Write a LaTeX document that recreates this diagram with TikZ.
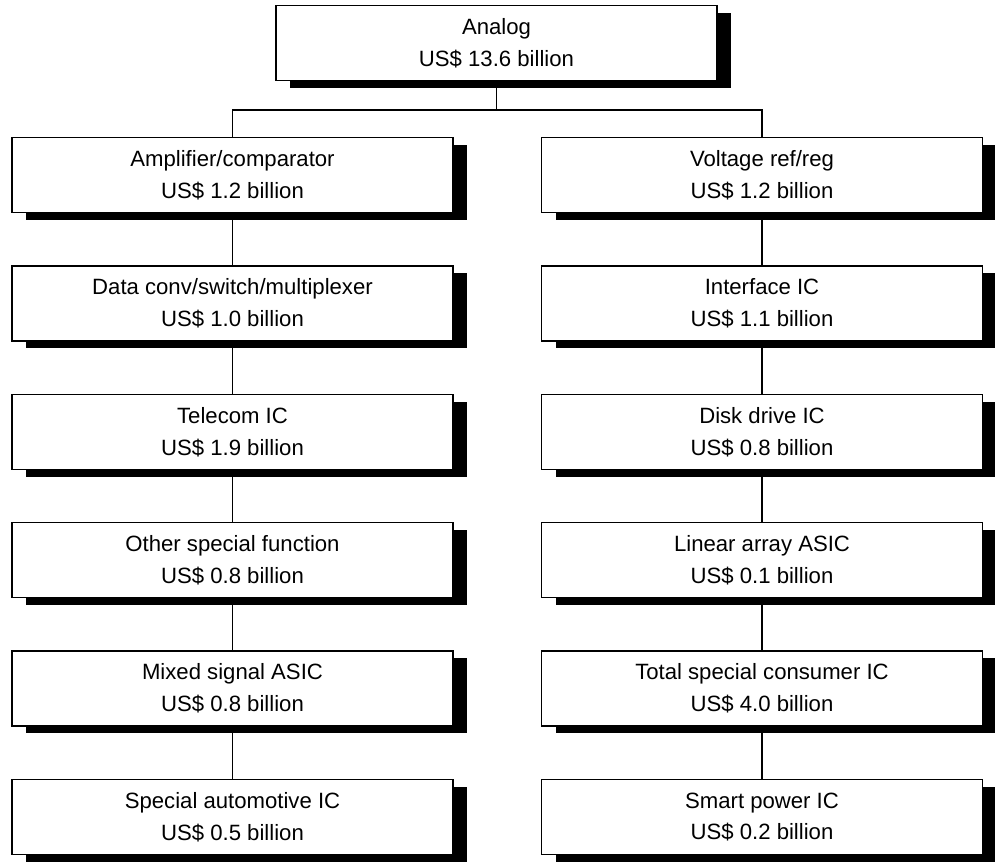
\documentclass[tikz,border=0pt]{standalone}
\usepackage{fontspec}
\setmainfont{Liberation Sans}
\usepackage{tikz}
\usetikzlibrary{positioning,shadows}
\tikzset{
  aline/.style={black, line width=0.9pt},
  abox/.style={draw=black, fill=white, line width=0.9pt, align=center,
               minimum width=8.82cm, minimum height=1.5cm, inner sep=2pt,
               font=\fontsize{12.6}{18}\selectfont,
               drop shadow={shadow xshift=0.28cm, shadow yshift=-0.14cm,
                            fill=black, opacity=1}},
}

\begin{document}
\begin{tikzpicture}
  \useasboundingbox (0,0) rectangle (19.9,-17.26);

  % topo
  \node[abox] (analog) at (9.93,-0.86) {Analog\\US\$ 13.6 billion};

  % coluna esquerda
  \node[abox] (amp)  at (4.65,-3.50)  {Amplifier/comparator\\US\$ 1.2 billion};
  \node[abox] (dconv) at (4.65,-6.07) {Data conv/switch/multiplexer\\US\$ 1.0 billion};
  \node[abox] (tele) at (4.65,-8.64)  {Telecom IC\\US\$ 1.9 billion};
  \node[abox] (other) at (4.65,-11.20) {Other special function\\US\$ 0.8 billion};
  \node[abox] (mixed) at (4.65,-13.77) {Mixed signal ASIC\\US\$ 0.8 billion};
  \node[abox] (auto) at (4.65,-16.34) {Special automotive IC\\US\$ 0.5 billion};

  % coluna direita
  \node[abox] (vref) at (15.24,-3.50)  {Voltage ref/reg\\US\$ 1.2 billion};
  \node[abox] (iface) at (15.24,-6.07) {Interface IC\\US\$ 1.1 billion};
  \node[abox] (disk) at (15.24,-8.64)  {Disk drive IC\\US\$ 0.8 billion};
  \node[abox] (lin) at (15.24,-11.20)  {Linear array ASIC\\US\$ 0.1 billion};
  \node[abox] (cons) at (15.24,-13.77) {Total special consumer IC\\US\$ 4.0 billion};
  \node[abox] (smart) at (15.24,-16.34) {Smart power IC\\US\$ 0.2 billion};

  % ligações
  \coordinate (bus) at (9.93,-2.2);
  \draw[aline] (analog.south) -- (bus);
  \draw[aline] (amp.north) |- (bus) -| (vref.north);
  \draw[aline] (amp) -- (dconv);
  \draw[aline] (dconv) -- (tele);
  \draw[aline] (tele) -- (other);
  \draw[aline] (other) -- (mixed);
  \draw[aline] (mixed) -- (auto);
  \draw[aline] (vref) -- (iface);
  \draw[aline] (iface) -- (disk);
  \draw[aline] (disk) -- (lin);
  \draw[aline] (lin) -- (cons);
  \draw[aline] (cons) -- (smart);

\end{tikzpicture}
\end{document}
